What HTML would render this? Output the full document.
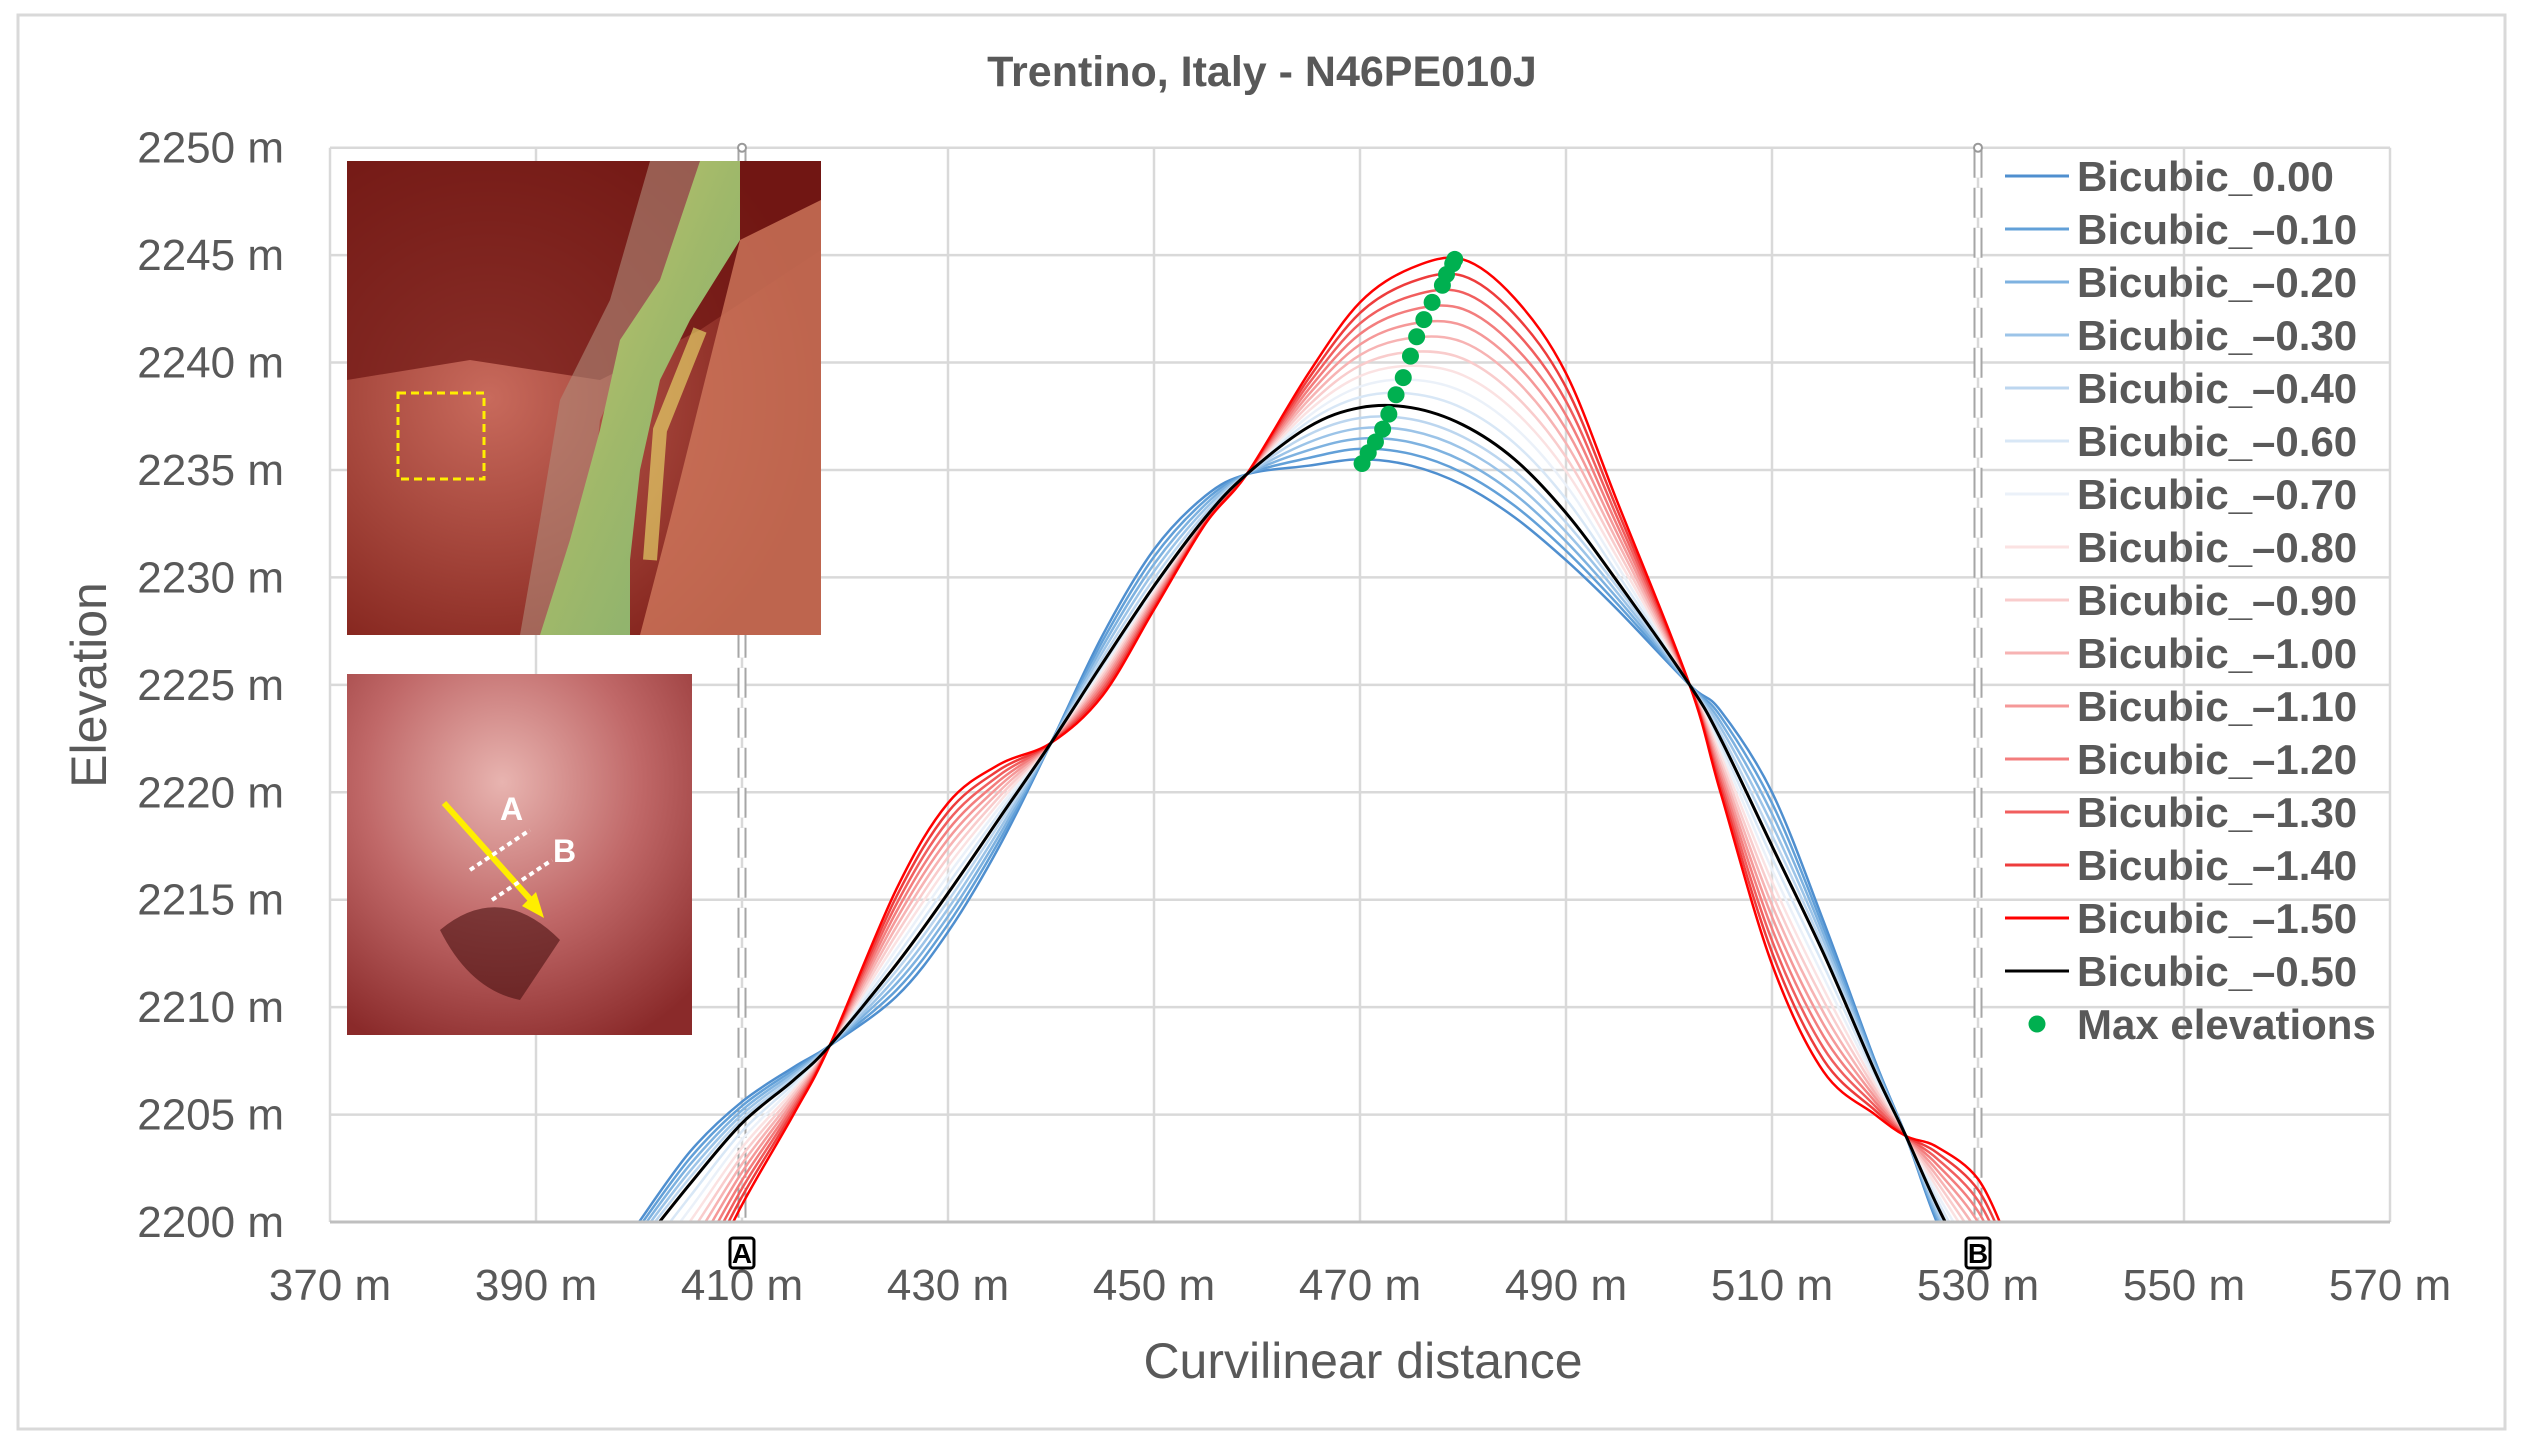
<!DOCTYPE html>
<html><head><meta charset="utf-8">
<style>
html,body{margin:0;padding:0;background:#fff;}
svg{display:block;font-family:"Liberation Sans",sans-serif;}
</style></head>
<body>
<svg id="chart" width="2524" height="1448" viewBox="0 0 2524 1448" xmlns="http://www.w3.org/2000/svg">
<defs>
 <clipPath id="plotClip"><rect x="330" y="140" width="2060" height="1082"/></clipPath>
 <linearGradient id="riverG" x1="0" y1="0" x2="1" y2="1">
  <stop offset="0" stop-color="#c9c86a"/><stop offset="0.5" stop-color="#9fb86a"/><stop offset="1" stop-color="#7fae72"/>
 </linearGradient>
 <radialGradient id="hill1" cx="0.3" cy="0.5" r="0.7">
  <stop offset="0" stop-color="#c86a5c"/><stop offset="1" stop-color="#7a1a14"/>
 </radialGradient>
 <radialGradient id="hill2" cx="0.45" cy="0.3" r="0.8">
  <stop offset="0" stop-color="#e8b4b0"/><stop offset="0.5" stop-color="#c06868"/><stop offset="1" stop-color="#8a2a2a"/>
 </radialGradient>
</defs>
<rect x="18" y="15" width="2487" height="1414" fill="#fff" stroke="#d9d9d9" stroke-width="3"/>
<text x="1262" y="86" text-anchor="middle" font-size="43" font-weight="bold" fill="#595959">Trentino, Italy - N46PE010J</text>
<g id="grid"></g>
<g id="insets">
 <g>
  <rect x="347" y="161" width="474" height="474" fill="url(#hill1)"/>
  <path d="M347,161 L821,161 L821,250 L700,330 L600,380 L470,360 L347,380 Z" fill="#6e1612" opacity="0.7"/>
  <path d="M650,161 L700,161 L690,260 L640,330 L600,420 L590,520 L560,635 L520,635 L540,520 L560,400 L610,300 Z" fill="#b08a7a" opacity="0.6"/>
  <path d="M700,161 L740,161 L740,240 L690,320 L660,380 L640,470 L630,560 L630,635 L540,635 L570,540 L600,430 L620,340 L660,280 Z" fill="url(#riverG)"/>
  <path d="M740,240 L821,200 L821,635 L640,635 L670,520 L700,400 Z" fill="#d0785c" opacity="0.8"/>
  <path d="M700,330 L660,430 L650,560" stroke="#f0e870" stroke-width="14" fill="none" opacity="0.6"/>
  <rect x="398" y="393" width="86" height="86" fill="none" stroke="#ffee00" stroke-width="3" stroke-dasharray="8,5"/>
 </g>
 <g>
  <rect x="347" y="674" width="345" height="361" fill="url(#hill2)"/>
  <path d="M440,930 Q500,880 560,940 L520,1000 Q470,990 440,930 Z" fill="#4a1010" opacity="0.6"/>
  <line x1="444" y1="803" x2="538" y2="908" stroke="#ffee00" stroke-width="6"/>
  <polygon points="544,918 522,906 536,892" fill="#ffee00"/>
  <line x1="470" y1="870" x2="530" y2="830" stroke="#fff" stroke-width="4" stroke-dasharray="5,4"/>
  <line x1="492" y1="900" x2="552" y2="860" stroke="#fff" stroke-width="4" stroke-dasharray="5,4"/>
  <text x="500" y="820" font-size="32" font-weight="bold" fill="#fff">A</text>
  <text x="553" y="862" font-size="32" font-weight="bold" fill="#fff">B</text>
 </g>
</g>
<g id="marks" clip-path="url(#plotClip)"></g>
<g id="axes"></g>
<g id="legend"></g>
<text x="1363" y="1378" text-anchor="middle" font-size="50" fill="#595959">Curvilinear distance</text>
<text transform="translate(106,685) rotate(-90)" text-anchor="middle" font-size="50" fill="#595959">Elevation</text>
</svg>
<script>
const xTicks = [370,390,410,430,450,470,490,510,530,550,570];
const yTicks = [2200,2205,2210,2215,2220,2225,2230,2235,2240,2245,2250];
const xs =      [400,405,410,415,418.5,425,430,435,440,445,450,455,459,465,470,475,480,485,490,495,502,505,510,515,520,523,526,530,533];
const yAlpha0 = [2200,2203.3,2205.6,2207.2,2208.2,2210.5,2213.5,2217.5,2222.3,2227.3,2231.3,2233.8,2234.8,2235.2,2235.5,2235.2,2234.3,2232.8,2230.8,2228.5,2225,2223.8,2220,2214,2207.5,2204,2200,2196,2193];
const yAlpha05 = [2198.8,2201.8,2204.6,2206.6,2208.2,2212,2215.3,2218.8,2222.3,2226,2229.6,2232.8,2234.8,2237,2237.9,2237.9,2237.1,2235.5,2233,2229.8,2225,2222.5,2217.5,2212.5,2207,2204,2200.8,2197,2194];
const yAlpha15 = [2192,2196,2200.8,2205,2208.2,2215.5,2219.5,2221.3,2222.3,2224.5,2228.5,2232.5,2234.8,2239.5,2242.8,2244.4,2244.8,2243,2239.5,2233.5,2225,2220,2212,2207,2205,2204,2203.5,2202,2199];
const alphas = [0,-0.1,-0.2,-0.3,-0.4,-0.6,-0.7,-0.8,-0.9,-1.0,-1.1,-1.2,-1.3,-1.4,-1.5,-0.5];
const seriesNames = ["Bicubic_0.00","Bicubic_\u20130.10","Bicubic_\u20130.20","Bicubic_\u20130.30","Bicubic_\u20130.40","Bicubic_\u20130.60","Bicubic_\u20130.70","Bicubic_\u20130.80","Bicubic_\u20130.90","Bicubic_\u20131.00","Bicubic_\u20131.10","Bicubic_\u20131.20","Bicubic_\u20131.30","Bicubic_\u20131.40","Bicubic_\u20131.50","Bicubic_\u20130.50"];
const seriesColors = ["#4f8fcf","#62a0d8","#7eb2e0","#9cc4e8","#bcd6ef","#d8e7f6","#ebf1f9","#fbe2e2","#f9cccc","#f7b3b3","#f59898","#f37d7d","#f15e5e","#ee3c3c","#ff0000","#000000"];
const maxX = [470.2,470.8,471.5,472.2,472.8,473.5,474.2,474.9,475.5,476.2,477.0,478.0,478.4,479.0,479.2];
const maxY = [2235.3,2235.8,2236.3,2236.9,2237.6,2238.5,2239.3,2240.3,2241.2,2242.0,2242.8,2243.6,2244.1,2244.6,2244.8];
const sectionX = [410,530];
const sectionLabels = ["A","B"];

const NS="http://www.w3.org/2000/svg";
const X0=330, X1=2390, Y0=1222, Y1=147.7;
function X(v){return X0+(v-370)/(570-370)*(X1-X0);}
function Y(v){return Y0-(v-2200)/(2250-2200)*(Y0-Y1);}
function mk(tag,attrs,parent){const e=document.createElementNS(NS,tag);for(const k in attrs)e.setAttribute(k,attrs[k]);parent.appendChild(e);return e;}
const grid=document.getElementById('grid'),marks=document.getElementById('marks'),axes=document.getElementById('axes'),legend=document.getElementById('legend');

xTicks.forEach(t=>{
 const l=mk('line',{x1:X(t),x2:X(t),y1:Y1,y2:Y0,stroke:'#d9d9d9','stroke-width':2.5},grid);
 
 
 const tx=mk('text',{x:X(t),y:1300,'text-anchor':'middle','font-size':44,fill:'#595959'},axes);
 tx.textContent=t+' m';
 
 
});
yTicks.forEach(t=>{
 const l=mk('line',{x1:X0,x2:X1,y1:Y(t),y2:Y(t),stroke:'#d9d9d9','stroke-width':2.5},grid);
 
 
 const tx=mk('text',{x:284,y:Y(t)+15,'text-anchor':'end','font-size':44,fill:'#595959'},axes);
 tx.textContent=t+' m';
 
 
});
const xa=mk('line',{x1:X0,x2:X1,y1:Y0,y2:Y0,stroke:'#bfbfbf','stroke-width':3},axes);



sectionX.forEach((s,i)=>{
 const g=mk('g',{},grid);
 
 
 mk('line',{x1:X(s),x2:X(s),y1:Y1,y2:Y0,stroke:'#a6a6a6','stroke-width':9,'stroke-dasharray':'30,10'},g);
 mk('line',{x1:X(s),x2:X(s),y1:Y1,y2:Y0,stroke:'#fff','stroke-width':5,'stroke-dasharray':'30,10'},g);
 mk('circle',{cx:X(s),cy:Y1,r:4,fill:'#fff',stroke:'#999','stroke-width':2},g);
 mk('rect',{x:X(s)-12,y:1238,width:24,height:30,rx:3,fill:'#fff',stroke:'#000','stroke-width':3},g);
 const t=mk('text',{x:X(s),y:1263,'text-anchor':'middle','font-size':28,'font-weight':'bold',fill:'#000'},g);
 t.textContent=sectionLabels[i];
});

function seriesY(a,i){
 if(a>=-0.5){const t=-a/0.5;return yAlpha0[i]*(1-t)+yAlpha05[i]*t;}
 const t=(-a-0.5)/1.0;return yAlpha05[i]*(1-t)+yAlpha15[i]*t;
}
function smoothPath(pts){
 let d='M'+pts[0][0]+','+pts[0][1];
 for(let i=0;i<pts.length-1;i++){
  const p0=pts[Math.max(0,i-1)],p1=pts[i],p2=pts[i+1],p3=pts[Math.min(pts.length-1,i+2)];
  const c1=[p1[0]+(p2[0]-p0[0])/6,p1[1]+(p2[1]-p0[1])/6],c2=[p2[0]-(p3[0]-p1[0])/6,p2[1]-(p3[1]-p1[1])/6];
  d+=' C'+c1[0]+','+c1[1]+' '+c2[0]+','+c2[1]+' '+p2[0]+','+p2[1];
 }
 return d;
}
alphas.forEach((a,si)=>{
 const pts=xs.map((x,i)=>[X(x),Y(seriesY(a,i))]);
 const p=mk('path',{d:smoothPath(pts),fill:'none',stroke:seriesColors[si],'stroke-width':si===15?3:2.5},marks);
 
 
});
maxX.forEach((x,i)=>{
 const c=mk('circle',{cx:X(x),cy:Y(maxY[i]),r:8.5,fill:'#00b050'},marks);
 
 
});

seriesNames.forEach((n,i)=>{
 const y=176+i*53;
 const g=mk('g',{},legend);
 
 
 mk('line',{x1:2005,x2:2069,y1:y,y2:y,stroke:seriesColors[i],'stroke-width':3},g);
 const t=mk('text',{x:2077,y:y+15,'font-size':42,'font-weight':'bold',fill:'#595959'},g);
 t.textContent=n;
});
{
 const y=176+16*53;
 const g=mk('g',{},legend);
 
 
 mk('circle',{cx:2037,cy:y,r:8.5,fill:'#00b050'},g);
 const t=mk('text',{x:2077,y:y+15,'font-size':42,'font-weight':'bold',fill:'#595959'},g);
 t.textContent='Max elevations';
}
</script>
</body></html>
